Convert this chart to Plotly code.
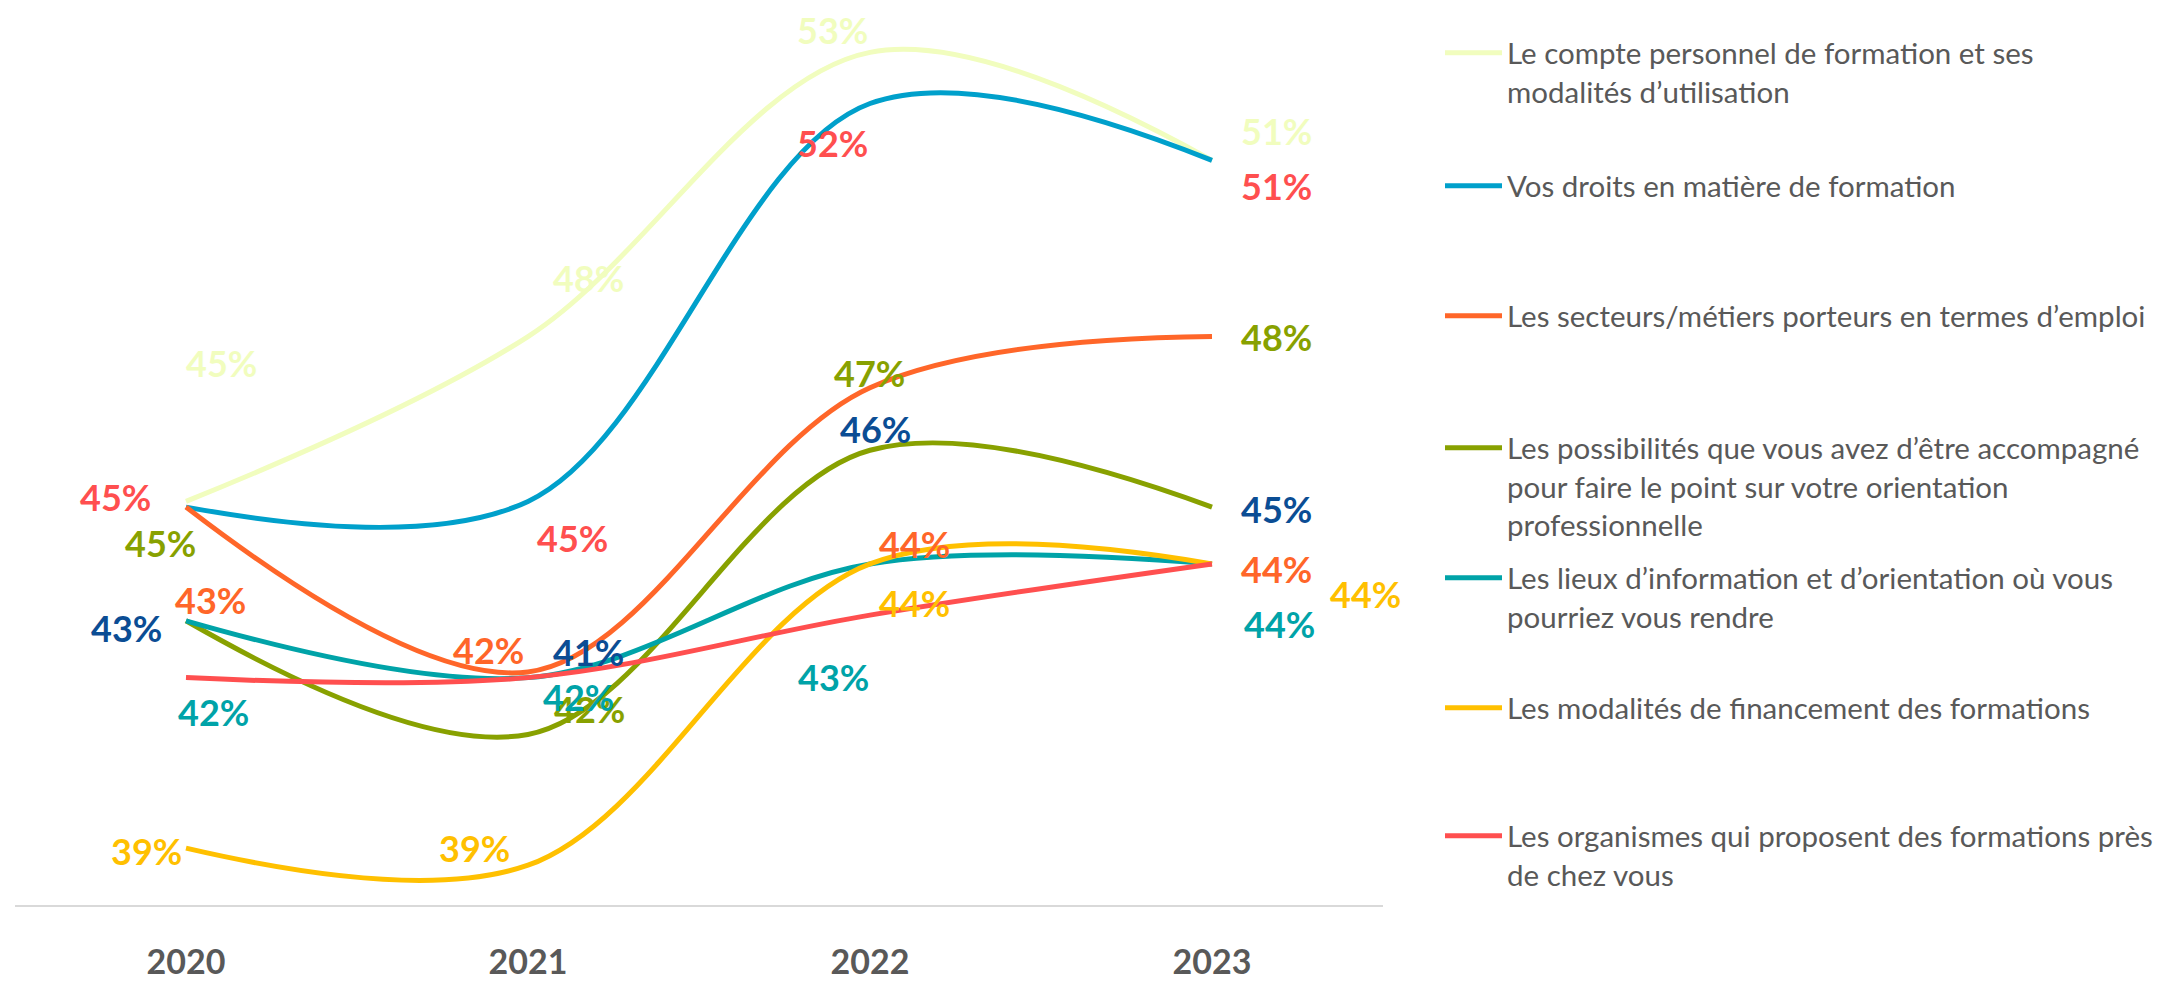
import plotly.graph_objects as go

# ==== data ====
years = ["2020", "2021", "2022", "2023"]

series_names = [
    "Le compte personnel de formation et ses<br>modalités d’utilisation",
    "Vos droits en matière de formation",
    "Les secteurs/métiers porteurs en termes d’emploi",
    "Les possibilités que vous avez d’être accompagné<br>pour faire le point sur votre orientation<br>professionnelle",
    "Les lieux d’information et d’orientation où vous<br>pourriez vous rendre",
    "Les modalités de financement des formations",
    "Les organismes qui proposent des formations près<br>de chez vous",
]

cpf = [45.1, 48.0, 53.0, 51.1]
droits = [45.0, 45.1, 52.1, 51.1]
secteurs = [45.0, 42.1, 47.1, 48.0]
accompagnement = [43.0, 41.0, 46.0, 45.0]
lieux = [43.0, 42.0, 44.0, 44.0]
financement = [39.0, 38.7, 44.0, 44.0]
organismes = [42.0, 42.0, 43.1, 44.0]

# ==== styles ====
line_colors = ["#F1FDBE", "#00A0CB", "#FF6629", "#88A100", "#00A3A8", "#FFC000", "#FF4F4F"]
label_colors = ["#F1FDBE", "#FF4F4F", "#88A100", "#0B4D94", "#FF6629", "#FFC000", "#00A3A8"]

# label offsets in px (dx right, dy up) for each series / year
label_dx = [
    [35, 60, -38, 64],
    [-71, 44, -38, 64],
    [-26, 61, -1, 64],
    [-60, 60, 5, 64],
    [24, -40, 44, 64],
    [-40, -54, 44, 153],
    [27, 50, -37, 67],
]
label_dy = [
    [138, 59, 22, 29],
    [10, -37, -39, -26],
    [-36, -37, 15, 0],
    [-7, 82, 21, -2],
    [21, 28, 20, -5],
    [-3, 17, -39, -30],
    [-34, -19, -62, -60],
]

legend_y = [53, 186, 316, 448, 578, 708, 836]

W, H = 2182, 981
all_values = [cpf, droits, secteurs, accompagnement, lieux, financement, organismes]

fig = go.Figure()

for i, (name, vals) in enumerate(zip(series_names, all_values)):
    lg = "legend" if i == 0 else "legend%d" % (i + 1)
    fig.add_trace(go.Scatter(
        x=list(range(len(years))),
        y=vals,
        name=name,
        mode="lines",
        line=dict(color=line_colors[i], width=5, shape="spline", smoothing=1.0),
        legend=lg,
        hoverinfo="skip",
    ))
    for j, v in enumerate(vals):
        fig.add_annotation(
            x=j, y=v, text="%d%%" % round(v),
            showarrow=False,
            xshift=label_dx[i][j], yshift=label_dy[i][j],
            font=dict(family="Lato", size=36, color=label_colors[i], weight="bold"),
        )

legend_style = dict(
    font=dict(family="Lato", size=29.5, color="#595959"),
    bgcolor="rgba(0,0,0,0)",
    xanchor="left", yanchor="top",
    valign="top",
    itemwidth=57,
    tracegroupgap=0,
)
layout_legends = {}
for i, ly in enumerate(legend_y):
    key = "legend" if i == 0 else "legend%d" % (i + 1)
    layout_legends[key] = dict(legend_style, x=1432 / W, y=1 - (ly - 34) / H)

fig.update_layout(
    width=W, height=H,
    margin=dict(l=0, r=0, t=0, b=0),
    paper_bgcolor="white",
    plot_bgcolor="white",
    showlegend=True,
    **layout_legends,
    xaxis=dict(
        domain=[7 / W, 1375 / W],
        range=[-0.5, 3.5],
        tickvals=list(range(len(years))),
        ticktext=years,
        showgrid=False, zeroline=False,
        showline=True, linecolor="#D9D9D9", linewidth=2,
        ticks="", ticklabelstandoff=26,
        tickfont=dict(family="Lato", size=34, color="#595959", weight="bold"),
    ),
    yaxis=dict(
        domain=[1 - 897 / H, 1],
        range=[38.0, 53.78],
        visible=False,
    ),
)

fig.write_html("out.html")
